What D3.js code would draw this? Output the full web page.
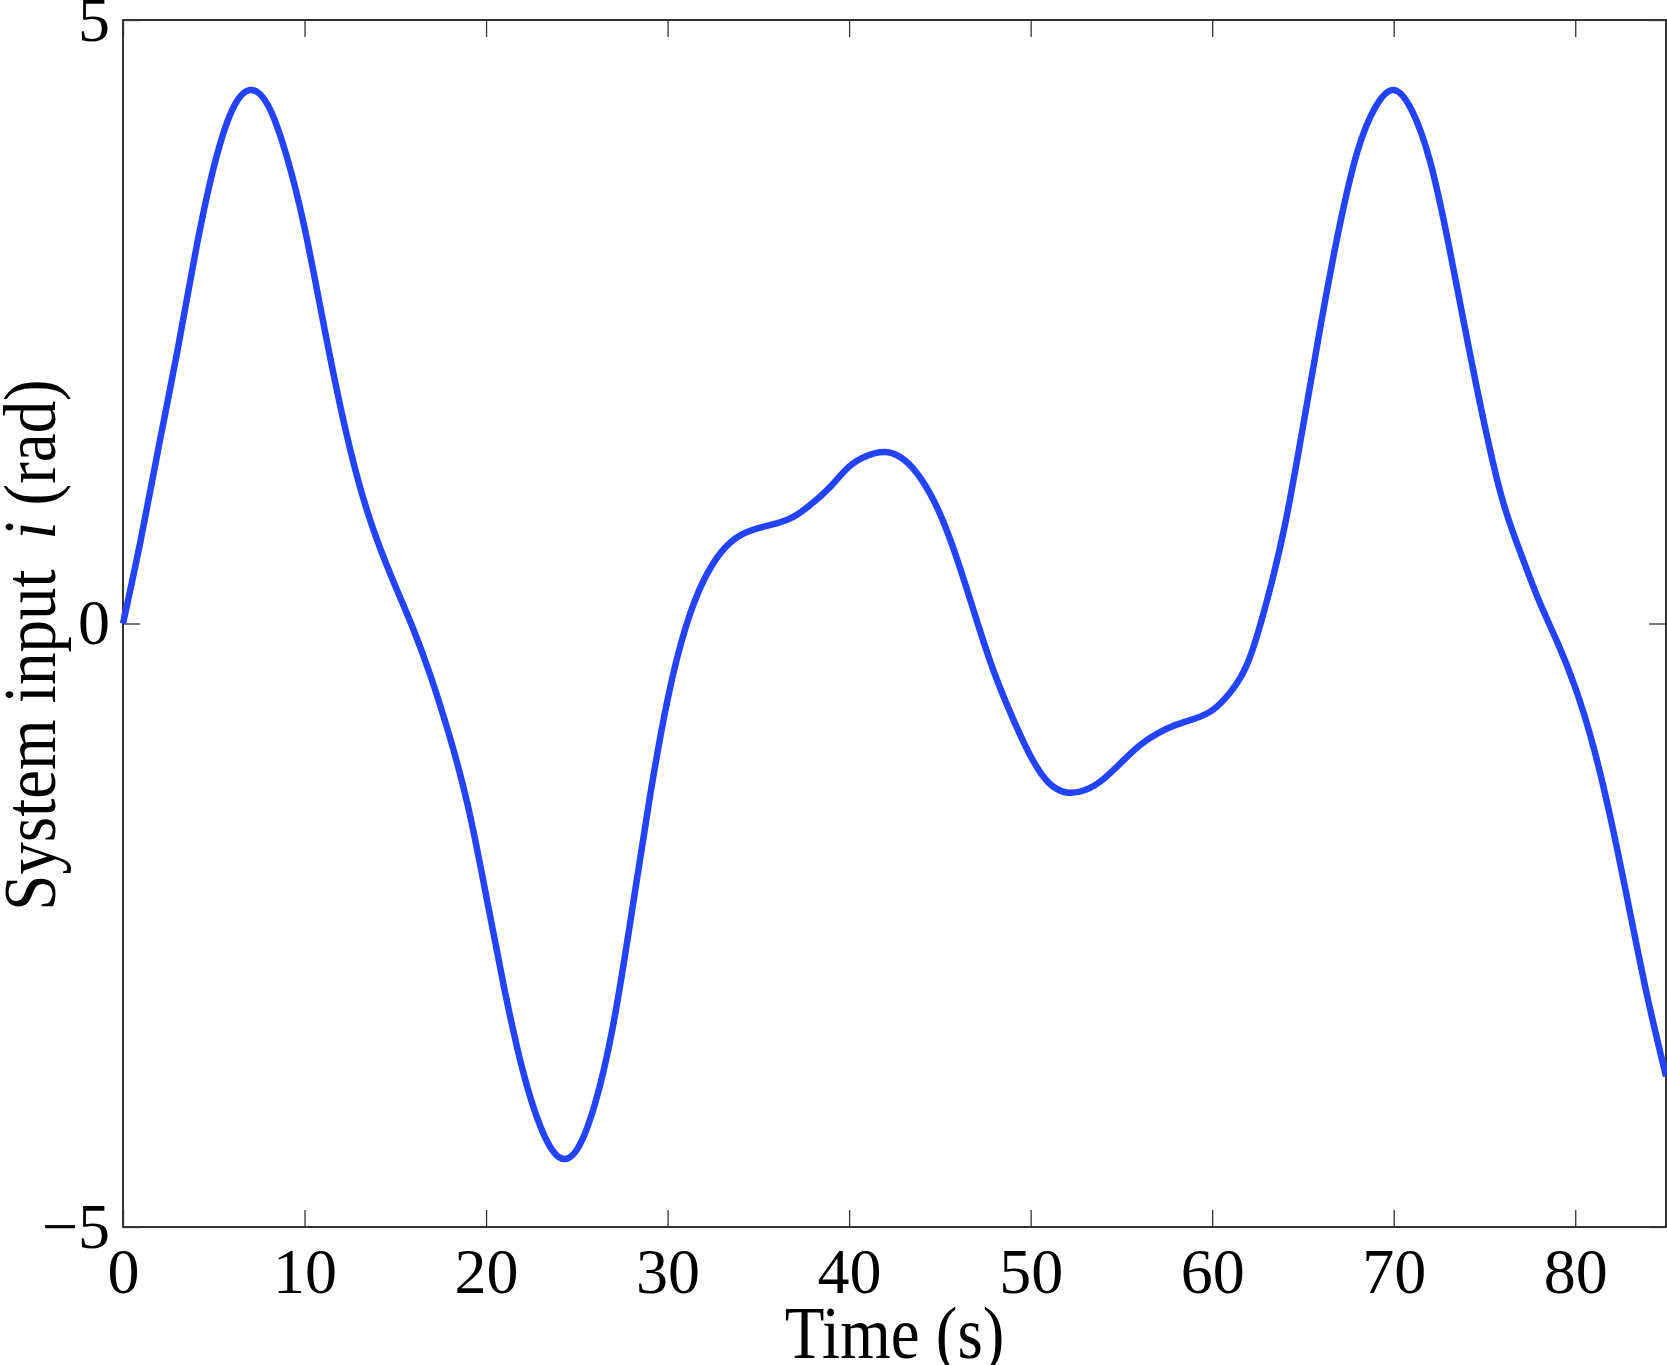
<!DOCTYPE html>
<html>
<head>
<meta charset="utf-8">
<script src="https://cdn.jsdelivr.net/npm/d3@7"></script>
<style>
  body { margin: 0; background: #fff; }
  text { font-family: "Liberation Serif", "Times New Roman", serif; fill: #000; }
</style>
</head>
<body>
<svg width="1667" height="1365"></svg>
<script>
// data (time in s, input in rad)
var timeS = [0, 1, 2, 3, 4, 5, 6, 7, 8, 9, 10, 11, 12, 13, 14, 15, 16, 17, 18, 19, 20,
  21, 22, 23, 24, 25, 26, 27, 28, 29, 30, 31, 32, 33, 34, 35, 36, 37, 38, 39, 40,
  41, 42, 43, 44, 45, 46, 47, 48, 49, 50, 51, 52, 53, 54, 55, 56, 57, 58, 59, 60,
  61, 62, 63, 64, 65, 66, 67, 68, 69, 70, 71, 72, 73, 74, 75, 76, 77, 78, 79, 80,
  81, 82, 83, 84, 85];
var inputRad = [0, 0.71, 1.49, 2.26, 3.08, 3.78, 4.25, 4.42, 4.29, 3.88, 3.28,
  2.52, 1.78, 1.16, 0.69, 0.31, -0.05, -0.46, -0.94, -1.51, -2.25,
  -3.02, -3.69, -4.17, -4.42, -4.36, -3.98, -3.33, -2.42, -1.46, -0.63,
  -0.03, 0.36, 0.60, 0.73, 0.79, 0.83, 0.89, 1.00, 1.14, 1.30,
  1.39, 1.42, 1.36, 1.19, 0.91, 0.51, 0.04, -0.41, -0.78, -1.10,
  -1.32, -1.40, -1.38, -1.29, -1.15, -1.01, -0.91, -0.84, -0.79, -0.72,
  -0.57, -0.31, 0.18, 0.81, 1.63, 2.49, 3.28, 3.91, 4.28, 4.42,
  4.25, 3.83, 3.16, 2.39, 1.65, 1.02, 0.58, 0.19, -0.15, -0.53,
  -1.02, -1.65, -2.38, -3.11, -3.75];
var xTicks = [0, 10, 20, 30, 40, 50, 60, 70, 80];
var yTicks = [-5, 0, 5];

var svg = d3.select("svg"),
    plotLeft = 123, plotRight = 1666, plotTop = 20, plotBottom = 1227;

var x = d3.scaleLinear().domain([0, 85]).range([plotLeft, plotRight]);
var y = d3.scaleLinear().domain([-5, 5]).range([plotBottom, plotTop]);

var tickLen = 17;

// box
svg.append("rect")
  .attr("x", plotLeft).attr("y", plotTop)
  .attr("width", plotRight - plotLeft).attr("height", plotBottom - plotTop)
  .attr("fill", "none").attr("stroke", "#000").attr("stroke-width", 1.6);

function styleAxis(g, showText) {
  g.select(".domain").remove();
  g.selectAll(".tick line").attr("stroke", "#333").attr("stroke-width", 1.3);
  g.selectAll("text").style("font-size", "64px").attr("fill", "#000");
  if (!showText) g.selectAll("text").remove();
}

svg.append("g")
  .attr("transform", "translate(0," + plotBottom + ")")
  .call(d3.axisBottom(x).tickValues(xTicks).tickSizeInner(-tickLen).tickSizeOuter(0).tickPadding(21))
  .call(styleAxis, true);

svg.append("g")
  .attr("transform", "translate(0," + plotTop + ")")
  .call(d3.axisTop(x).tickValues(xTicks).tickSizeInner(-tickLen).tickSizeOuter(0))
  .call(styleAxis, false);

svg.append("g")
  .attr("transform", "translate(" + plotLeft + ",0)")
  .call(d3.axisLeft(y).tickValues(yTicks).tickSizeInner(-tickLen).tickSizeOuter(0).tickPadding(13))
  .call(styleAxis, true);

svg.append("g")
  .attr("transform", "translate(" + plotRight + ",0)")
  .call(d3.axisRight(y).tickValues(yTicks).tickSizeInner(-tickLen).tickSizeOuter(0))
  .call(styleAxis, false);

// curve
var line = d3.line()
  .x(function(d, i) { return x(timeS[i]); })
  .y(function(d) { return y(d); })
  .curve(d3.curveNatural);

svg.append("path")
  .datum(inputRad)
  .attr("d", line)
  .attr("fill", "none")
  .attr("stroke", "#2343ff")
  .attr("stroke-width", 6.5)
  .attr("stroke-linejoin", "round");

// axis labels
svg.append("text")
  .attr("transform", "translate(" + (plotLeft + plotRight) / 2 + ",1358) scale(1,1.15)")
  .attr("text-anchor", "middle")
  .style("font-size", "65px")
  .text("Time (s)");

var yl = svg.append("text")
  .attr("transform", "translate(55,645) rotate(-90) scale(1,1.15)")
  .attr("text-anchor", "middle")
  .style("font-size", "65px");
yl.append("tspan").text("System input");
yl.append("tspan").attr("dx", 30).style("font-style", "italic").text("i");
yl.append("tspan").attr("dx", 16).text("(rad)");
</script>
</body>
</html>
